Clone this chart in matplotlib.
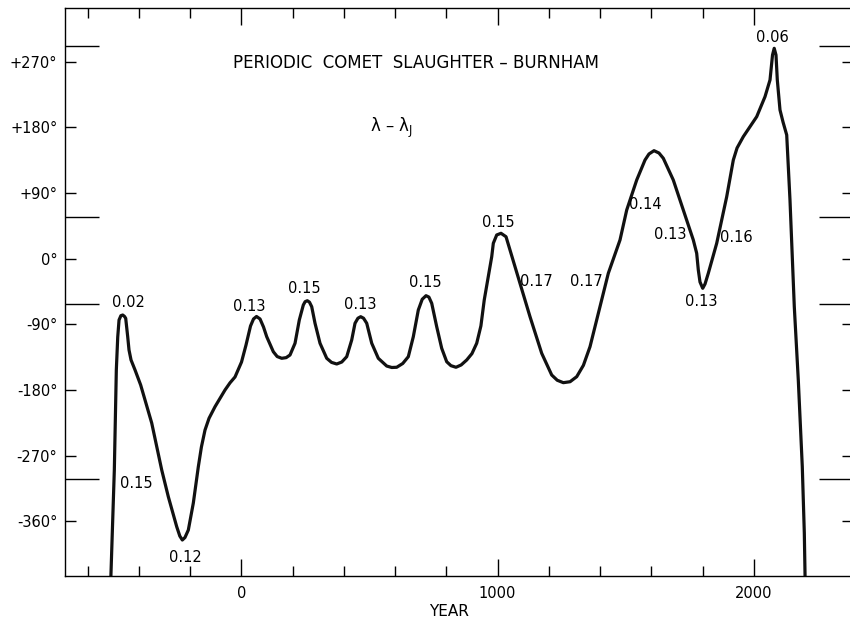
import matplotlib
matplotlib.use('Agg')
import matplotlib.pyplot as plt

plt.rcParams['font.family'] = ['DejaVu Sans']
plt.rcParams['mathtext.default'] = 'regular'

# lambda - lambda_J in degrees against year
year = [-509, -495.6, -487.8, -482.3, -477.2, -470, -462.8, -456, -451.2, -443.4,
        -438.3, -430.4, -414.8, -392.8, -375.8, -349.7, -330.1, -310.6, -284.9, -252.1,
        -240, -230.2, -220, -206.8, -187.3, -167.8, -155.8, -141.7, -126, -102.6,
        -63.6, -44.1, -24.6, 0.8, 18.3, 35.9, 47.6, 59.3, 73, 86.6,
        99.1, 124.9, 140, 157.7, 175, 190, 209.6, 226.3, 241.9, 249,
        257.6, 266, 274.7, 287.6, 307.1, 333.3, 352, 372.3, 392, 411.3,
        430.8, 443.7, 455, 465.9, 477, 489.4, 508.9, 534.6, 567.4, 587,
        606.4, 630, 651.7, 671.2, 690.7, 706, 720.8, 732, 743.0, 762.5,
        782.0, 801.5, 818, 837.8, 858, 879.6, 900, 918.6, 935, 948,
        968, 977.2, 983.4, 996.7, 1013.4, 1033, 1048.6, 1087.6, 1126.6, 1172.3,
        1211.3, 1233, 1256.6, 1283, 1308.9, 1335, 1360.8, 1399.8, 1432.2, 1477.8,
        1504, 1543, 1575.4, 1590.9, 1610.5, 1629.9, 1646.8, 1685.8, 1724.9, 1763.9,
        1777.1, 1783.4, 1790, 1800.6, 1809.6, 1822.4, 1855.2, 1894.2, 1920, 1934.6,
        1959, 2011.3, 2043.7, 2063.2, 2073, 2079.6, 2086.6, 2091.7, 2102.2, 2114,
        2128.4, 2141.2, 2158, 2173.6, 2189.2, 2197.1, 2200]
dlam = [-435, -289.5, -152.4, -107.2, -83.9, -78, -77.1, -79, -81.6, -106.8,
        -125, -138.7, -152.4, -173, -193.5, -225.1, -257.5, -289.5, -326.1, -367.2,
        -380, -385.4, -382, -371.7, -334.7, -285, -258, -234.7, -218.6, -202.7,
        -179.8, -170, -162, -141.5, -118.2, -92.1, -82.5, -79.1, -82.5, -93.5,
        -106.8, -127.4, -134, -136.4, -135.5, -131.9, -115.8, -83.9, -63.4, -58.8,
        -57.5, -59.5, -65.7, -88.4, -115.8, -136.4, -142, -144.2, -141.5, -134.2,
        -111.3, -88.4, -81.5, -79.4, -81.5, -88.4, -115.8, -136.4, -147.0, -149,
        -148.7, -143.5, -134.2, -106.8, -70.2, -55.5, -50.6, -52.5, -61.0, -93.1,
        -122.7, -141.1, -146.5, -148.7, -145.5, -138.7, -130, -115.8, -92, -56.5,
        -15.4, 2.8, 21.2, 32.6, 34.9, 30.2, 12, -33.6, -79.4, -129.6,
        -159.3, -166.5, -169.8, -168.5, -161.6, -146, -120.5, -65.7, -19.9, 25.7,
        66.8, 107.9, 135.3, 143.6, 148.1, 144.9, 137.7, 107.9, 66.8, 25.7,
        7.5, -15.4, -31.8, -40.5, -34.6, -19.9, 21.2, 85, 135.3, 151.8,
        167.3, 194.7, 222.1, 245, 279.2, 288.4, 279.2, 245, 203.9, 187.4,
        169.6, 80.5, -65.7, -166.1, -285, -375.8, -435]

# numbers written beside the curve
note_text = ['0.02', '0.15', '0.12', '0.13', '0.15', '0.13', '0.15', '0.15',
             '0.17', '0.17', '0.14', '0.13', '0.13', '0.16', '0.06']
note_year = [-442, -411, -220, 30, 245, 463, 718, 1001,
             1150, 1348, 1575, 1675, 1794, 1933, 2071]
note_dlam = [-60.6, -307.3, -408.7, -65.7, -41.4, -62, -32.8, 49.4,
             -31.4, -31.4, 73.7, 33.9, -58.8, 29.4, 303.5]

ytick_vals = [270, 180, 90, 0, -90, -180, -270, -360]
ytick_text = ['+270°', '+180°', '+90°', '0°', '-90°', '-180°', '-270°', '-360°']
xtick_vals = [0, 1000, 2000]
xtick_text = ['0', '1000', '2000']
xminor_vals = [-600, -400, -200, 200, 400, 600, 800, 1200, 1400, 1600, 1800]
# long marks on both sides of the frame
mark_vals = [292, 57, -62, -302]

fig = plt.figure(figsize=(8.5, 6.26), dpi=100)
ax = fig.add_axes([0.0765, 0.0799, 0.927, 0.9066])

ax.plot(year, dlam, color='#111111', lw=2.3, solid_joinstyle='round')

ax.set_xlim(-688, 2387)
ax.set_ylim(-434.7, 343)

ax.set_xticks(xtick_vals)
ax.set_xticklabels(xtick_text)
ax.set_xticks(xminor_vals, minor=True)
ax.set_yticks(ytick_vals)
ax.set_yticklabels(ytick_text)
ax.set_yticks(mark_vals, minor=True)

ax.tick_params(axis='x', which='major', direction='in', length=12, width=1,
               top=True, pad=7, labelsize=10.5)
ax.tick_params(axis='x', which='minor', direction='in', length=7, width=1, top=True)
ax.tick_params(axis='y', which='major', direction='in', length=8, width=1,
               right=True, pad=5.5, labelsize=10.5)
ax.tick_params(axis='y', which='minor', direction='in', length=24.5, width=1,
               right=True)
for sp in ax.spines.values():
    sp.set_linewidth(1.0)

for t, x, y in zip(note_text, note_year, note_dlam):
    ax.text(x, y, t, ha='center', va='center', fontsize=10.5)

fig.text(0.489, 0.9, 'PERIODIC  COMET  SLAUGHTER – BURNHAM',
         ha='center', va='center', fontsize=12)
fig.text(0.46, 0.7955, 'λ – λ$_J$', ha='center', va='center', fontsize=12)
fig.text(0.528, 0.0224, 'YEAR', ha='center', va='center', fontsize=11)

fig.savefig('out.png', dpi=100)
